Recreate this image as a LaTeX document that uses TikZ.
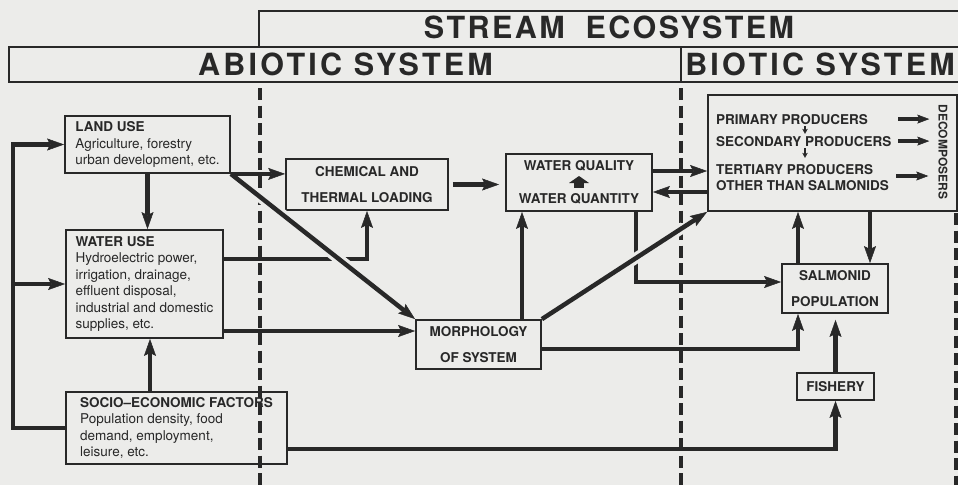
\documentclass[tikz,border=0pt]{standalone}
\usepackage{fontspec}
\setmainfont{TeX Gyre Heros}
\newfontfamily\headfont[LetterSpace=8]{TeX Gyre Heros}
\newfontfamily\headfontw[LetterSpace=10.5]{TeX Gyre Heros}
\usetikzlibrary{arrows.meta,calc}
\definecolor{bg}{RGB}{236,236,234}
\definecolor{ink}{RGB}{40,40,40}
\begin{document}
\begin{tikzpicture}[x=1pt,y=-1pt,
  frame/.style={draw=ink, line width=2pt},
  head/.style={inner sep=0pt, anchor=base, text=ink, font=\headfont\bfseries\fontsize{30.5}{36}\selectfont},
  headw/.style={head, font=\headfontw\bfseries\fontsize{30.5}{36}\selectfont},
  divider/.style={draw=ink, line width=3.2pt, dash pattern=on 12pt off 5.5pt},
  box/.style={draw=ink, line width=1.8pt, inner sep=0pt, text=ink},
  body/.style={box, align=left, font=\fontsize{13.5}{16.4}\selectfont},
  capbox/.style={box, align=center, font=\bfseries\fontsize{13.5}{25.5}\selectfont},
  bt/.style={inner sep=0pt, text=ink, font=\bfseries\fontsize{13.5}{16}\selectfont},
  conn/.style={draw=ink, line width=4.5pt},
  arr/.style={conn, -{Stealth[length=17pt,width=12pt,inset=3pt,line width=0.5pt]}},
  darr/.style={draw=ink, line width=3.2pt, -{Stealth[length=12pt,width=9pt,inset=2pt,line width=0.5pt]}},
  small/.style={draw=ink, line width=1.3pt, -{Stealth[length=5pt,width=5.5pt,line width=0.3pt]}},
  halo/.style={draw=bg, line width=11pt, shorten <=28pt, shorten >=28pt}]
\useasboundingbox[fill=bg] (0,0) rectangle (958,485);

% header bands
\draw[frame] (259,47) -- (259,11) -- (965,11);
\draw[frame] (965,47) -- (9,47) -- (9,82) -- (965,82);
\draw[frame] (681,47) -- (681,82);
\node[head] (eco) at (609,38) {STREAM\hspace{10pt} ECOSYSTEM};
\node[headw] (abio) at (345.5,75) {ABIOTIC SYSTEM};
\node[headw] (biot) at (820,75) {BIOTIC SYSTEM};

% dividers
\draw[divider] (260,88) -- (260,485);
\draw[divider] (681,88) -- (681,485);
\draw[divider] (956,213) -- (956,485);

% boxes
\node[body, minimum width=165pt, minimum height=57pt] (land) at (147.5,144.5)
  {\textbf{LAND USE}\\Agriculture, forestry\\urban development, etc.};
\node[body, minimum width=157pt, minimum height=108pt] (wuse) at (144.5,284)
  {\textbf{WATER USE}\\Hydroelectric power,\\irrigation, drainage,\\effluent disposal,\\industrial and domestic\\supplies, etc.};
\node[body, minimum width=221pt, minimum height=72pt] (socio) at (176.5,428)
  {\textbf{SOCIO–ECONOMIC FACTORS}\\Population density, food\\demand, employment,\\leisure, etc.};
\node[capbox, minimum width=162pt, minimum height=51pt] (chem) at (367,184.5)
  {CHEMICAL AND\\THERMAL LOADING};
\node[capbox, minimum width=146pt, minimum height=57pt, font=\bfseries\fontsize{13.5}{16.4}\selectfont] (wq) at (579,182.5)
  {WATER QUALITY\\[16.6pt]WATER QUANTITY};
\fill[ink] ($(wq.center)+(-10,0.5)$) -- ($(wq.center)+(0,-6.5)$) -- ($(wq.center)+(10,0.5)$) -- cycle;
\fill[ink] ($(wq.center)+(-5,0)$) rectangle ($(wq.center)+(5,5.5)$);
\node[capbox, minimum width=125pt, minimum height=49pt] (morph) at (478.5,344.5)
  {MORPHOLOGY\\OF SYSTEM};
\node[capbox, minimum width=106pt, minimum height=49pt] (salm) at (835,288.5)
  {SALMONID\\POPULATION};
\node[capbox, minimum width=77pt, minimum height=27pt] (fish) at (835.5,386.5) {FISHERY};
\node[box, minimum width=249pt, minimum height=116pt] (bio) at (832.5,153) {};

% biotic box contents
\node[bt, anchor=base west] (pp) at (716,124) {PRIMARY PRODUCERS};
\node[bt, anchor=base west] (sp) at (716,146) {SECONDARY PRODUCERS};
\node[bt, anchor=base west] (tp) at (716,174) {TERTIARY PRODUCERS};
\node[bt, anchor=base west] (ot) at (716,190) {OTHER THAN SALMONIDS};
\node[bt, rotate=-90, font=\bfseries\fontsize{12}{14}\selectfont] (dec) at (943,152) {DECOMPOSERS};
\coordinate (ax) at (805,0);
\coordinate (dx) at (898,0);
\coordinate (t3) at (896,176);
\draw[small, shorten <=2pt, shorten >=2pt] (ax |- pp.south) -- (ax |- sp.north);
\draw[small, shorten <=2pt, shorten >=6pt] (ax |- sp.south) -- (ax |- tp.north);
\draw[darr, shorten >=9pt] (dx |- pp.east) -- (dec.south |- pp.east);
\draw[darr, shorten >=9pt] (dx |- sp.east) -- (dec.south |- sp.east);
\draw[darr, shorten >=10pt] (t3) -- (dec.south |- t3);

% helper rows / columns
\coordinate (y259) at (0,259);
\coordinate (y331) at (0,331);
\coordinate (y171) at (0,171);
\coordinate (y192) at (0,192);
\coordinate (y282) at (0,282);
\coordinate (y349) at (0,349);
\coordinate (y449) at (0,449);
\coordinate (x13) at (13,0);
\coordinate (x150) at (150,0);
\coordinate (x522) at (522,0);
\coordinate (x636) at (636,0);
\coordinate (x798) at (798,0);
\coordinate (x870) at (870,0);

% connectors
\draw[arr] (socio.west) -| (x13 |- land.west) -- (land.west);
\draw[arr] (x13 |- wuse.west) -- (wuse.west);
\draw[arr] (land.south) -- (land.south |- wuse.north);
\draw[arr] (x150 |- socio.north) -- (x150 |- wuse.south);
\draw[arr] (land.south east) -- (land.south east -| chem.west);
\draw[arr] (wuse.east |- y259) -| (chem.south);
\draw[arr] (wuse.east |- y331) -- (morph.west |- y331);
\draw[arr, shorten <=4pt, shorten >=6pt] (chem.east) -- (chem.east -| wq.west);
\draw[arr] (x522 |- morph.north) -- (x522 |- wq.south);
\draw[arr] (wq.east |- y171) -- (bio.west |- y171);
\draw[arr] (bio.west |- y192) -- (wq.east |- y192);
\draw[arr] (x636 |- wq.south) |- (salm.west |- y282);
\draw[arr] (morph.east |- y349) -| (x798 |- salm.south);
\draw[arr] (x798 |- salm.north) -- (x798 |- bio.south);
\draw[arr] (x870 |- bio.south) -- (x870 |- salm.north);
\draw[arr, shorten >=6pt] (fish.north) -- (fish.north |- salm.south);
\draw[arr] (socio.east |- y449) -| (fish.south);
\draw[halo] (land.south east) -- (morph.north west);
\draw[halo] (morph.north east) -- (bio.south west);
\draw[arr] (land.south east) -- (morph.north west);
\draw[arr] (morph.north east) -- (bio.south west);
\end{tikzpicture}
\end{document}
